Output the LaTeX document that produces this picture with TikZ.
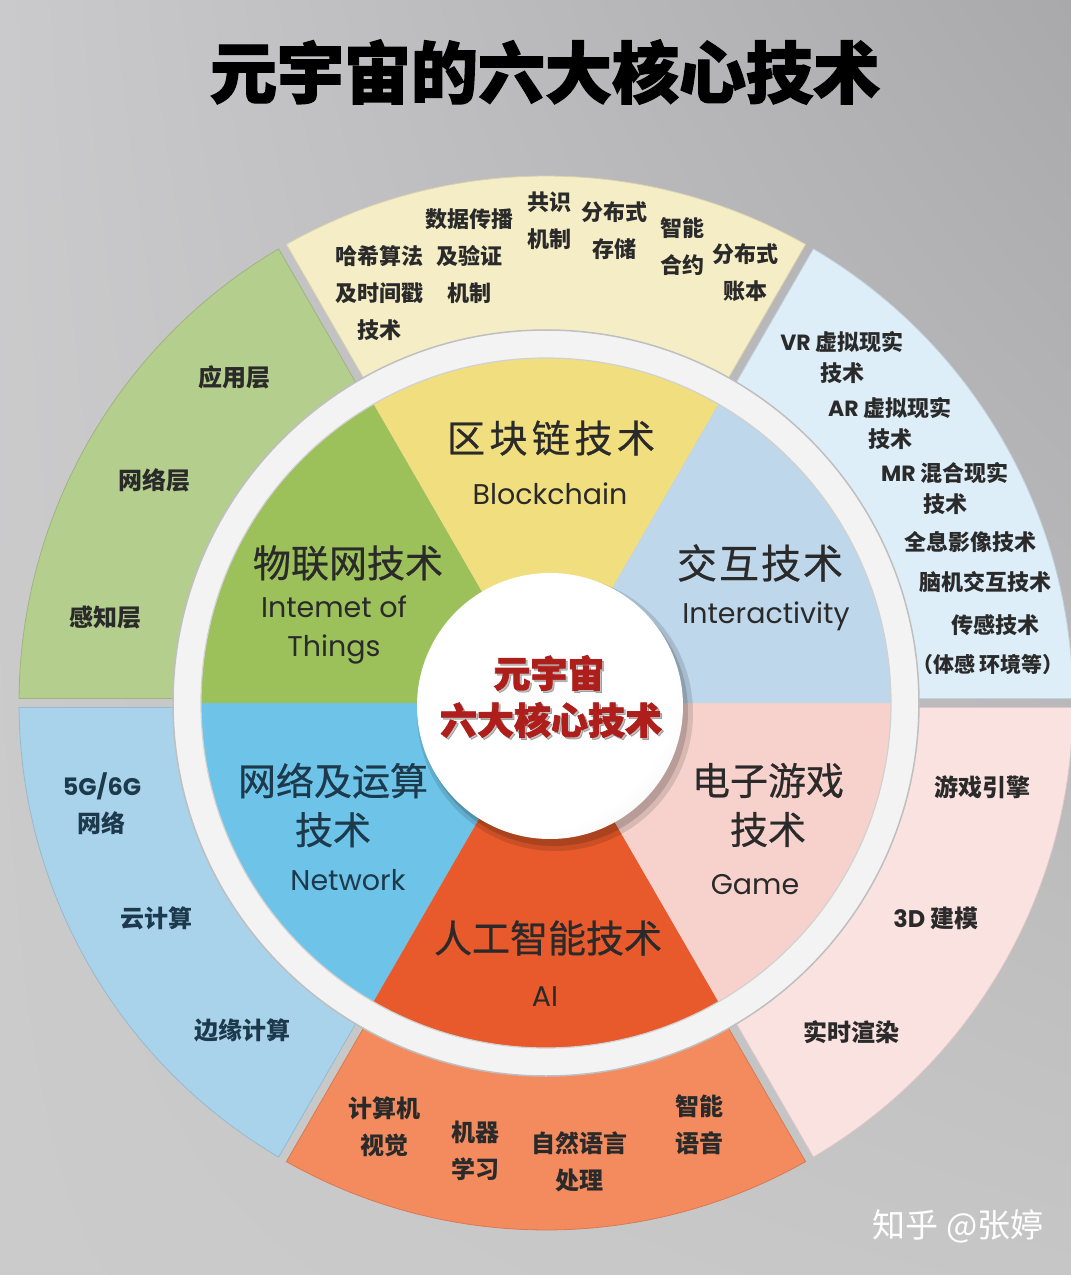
\documentclass[tikz,border=0pt]{standalone}
\usepackage{fontspec}
\usetikzlibrary{shadings}
\newfontfamily\cjk{Noto Sans CJK SC}
\newfontfamily\cjkmed{Noto Sans CJK SC}[FakeBold=0.6]
\newfontfamily\cjkheavy{Noto Sans CJK SC}[BoldFeatures={FakeBold=2}]
\newfontfamily\geo{Poppins}
\definecolor{bgUL}{HTML}{CACACC}
\definecolor{bgUR}{HTML}{A9A9AC}
\definecolor{bgLL}{HTML}{CBCBCB}
\definecolor{bgLR}{HTML}{C6C6C6}
\definecolor{iY}{HTML}{F1DE7E}
\definecolor{oY}{HTML}{F5EDC6}
\definecolor{iG}{HTML}{9CC05A}
\definecolor{oG}{HTML}{B4CE8E}
\definecolor{iB}{HTML}{6EC4E8}
\definecolor{oB}{HTML}{A9D3EB}
\definecolor{iO}{HTML}{E85A2B}
\definecolor{oO}{HTML}{F38B5E}
\definecolor{iP}{HTML}{F7D2CC}
\definecolor{oP}{HTML}{F9E2E0}
\definecolor{iL}{HTML}{BED7EA}
\definecolor{oL}{HTML}{DDEEF9}
\definecolor{ringc}{HTML}{F3F3F3}
\definecolor{txt}{HTML}{2A2A2A}
\definecolor{navy}{HTML}{1D3A4C}
\definecolor{redt}{HTML}{AE1F1B}
\pgfdeclareradialshading{ballshade}{\pgfpoint{-10bp}{10bp}}{color(0bp)=(white); color(28bp)=(white); color(40bp)=(black!10); color(47bp)=(black!30); color(50bp)=(black!50)}
\tikzset{
  outtxt/.style={font=\cjk\bfseries\fontsize{24}{37}\selectfont, text=txt, align=center, inner sep=0pt},
  outsm/.style={font=\cjk\bfseries\fontsize{22}{37}\selectfont, text=txt, align=center, inner sep=0pt},
  outrt/.style={font=\cjk\bfseries\fontsize{22}{31}\selectfont, text=txt, align=center, inner sep=0pt},
  intitle/.style={font=\cjkmed\fontsize{38}{49}\selectfont, text=txt, align=center, inner sep=0pt},
  inen/.style={font=\geo\fontsize{28.5}{39}\selectfont, text=txt, align=center, inner sep=0pt},
  redtxt/.style={font=\cjkheavy\bfseries\fontsize{37}{47}\selectfont, text=redt, inner sep=0pt},
}
\begin{document}
\begin{tikzpicture}[x=1pt,y=1pt]
\useasboundingbox (-546,-572) rectangle (525,703);
\shade[upper left=bgUL, upper right=bgUR, lower left=bgLL, lower right=bgLR] (-546,-572) rectangle (525,703);

% title
\node[font=\cjkheavy\bfseries\fontsize{67}{70}\selectfont, text=black, inner sep=0pt] (title) at (-1,631) {元宇宙的六大核心技术};

% outer sectors
\foreach \a/\b/\c in {60/120/oY, 120/180/oG, 180/240/oB, 240/300/oO, 300/360/oP, 0/60/oL}{
  \pgfmathsetmacro\da{4.5/527*57.2958}
  \pgfmathsetmacro\db{4.5/350*57.2958}
  \fill[\c, draw=\c!88!black, line width=0.8] ({\a+\db}:350) -- ({\a+\da}:527)
     arc[start angle={\a+\da}, end angle={\b-\da}, radius=527] -- ({\b-\db}:350) -- cycle;
}

% inner sectors
\foreach \a/\b/\c in {60/120/iY, 120/180/iG, 180/240/iB, 240/300/iO, 300/360/iP, 0/60/iL}{
  \fill[\c] (0,0) -- (\a:350) arc[start angle=\a, end angle=\b, radius=350] -- cycle;
}

% white ring
\draw[line width=28, ringc] (0,0) circle (359);
\draw[black!25, line width=1.5] (0,0) circle (373);
\draw[black!18, line width=1.2] (0,0) circle (345);

% center ball
\fill[black, opacity=0.12] (9,-10) circle (138);
\fill[black, opacity=0.15] (8,-9) circle (134);
\shade[shading=ballshade] (4,-3) circle (133);
\node (ballc) at (4,-3) {};

% center text
\node[redtxt, text=black, opacity=0.25] at (5,28) {元宇宙};
\node[redtxt, text=black, opacity=0.25] at (7,-19) {六大核心技术};
\node[redtxt] (cent1) at (3,30) {元宇宙};
\node[redtxt] (cent2) at (5,-17) {六大核心技术};

% inner labels
\node[intitle] (blkzh) at (5,265) {区\kern4.5pt 块\kern4.5pt 链\kern4.5pt 技\kern4.5pt 术};
\node[inen] (blken) at (4,209) {Blockchain};
\node[intitle] (iotzh) at (-198,140) {物联网技术};
\node[inen] (ioten) at (-212,73) {Intemet of\\Things};
\node[intitle, font=\cjkmed\fontsize{40}{49}\selectfont] (intzh) at (214,140) {交\kern2pt 互\kern2pt 技\kern2pt 术};
\node[inen] (inten) at (220,87) {Interactivity};
\node[intitle, text=navy] (netzh) at (-213,-102) {网络及运算\\技术};
\node[inen, text=navy] (neten) at (-198,-177) {Network};
\node[intitle] (gamezh) at (222,-102) {电子游戏\\技术};
\node[inen] (gameen) at (209,-182) {Game};
\node[intitle] (aizh) at (2,-235) {人工智能技术};
\node[inen] (aien) at (-1,-294) {AI};

% yellow outer
\node[outsm] (hash) at (-166,410) {哈希算法\\及时间戳\\技术};
\node[outsm] (data) at (-76,447) {数据传播\\及验证\\机制};
\node[outsm] (cons) at (4,482) {共识\\机制};
\node[outsm] (stor) at (69,472) {分布式\\存储};
\node[outsm] (contr) at (137,456) {智能\\合约};
\node[outsm] (ledg) at (199,430) {分布式\\账本};

% light blue outer
\node[outrt] (vr) at (296,346) {{\geo VR} 虚拟现实\\技术};
\node[outrt] (ar) at (344,280) {{\geo AR} 虚拟现实\\技术};
\node[outrt] (mr) at (399,215) {{\geo MR} 混合现实\\技术};
\node[outrt] (holo) at (424,161) {全息影像技术};
\node[outrt] (bci) at (439,121) {脑机交互技术};
\node[outrt] (sens) at (449,78) {传感技术};
\node[outrt, font=\cjk\bfseries\fontsize{21}{31}\selectfont] (paren) at (442,39) {（体感\kern4pt 环境等）};

% pink outer
\node[outtxt] (engine) at (436,-84) {游戏引擎};
\node[outtxt] (model) at (390,-215) {{\geo 3D} 建模};
\node[outtxt] (render) at (305,-329) {实时渲染};

% orange outer
\node[outtxt] (cv) at (-161,-424) {计算机\\视觉};
\node[outtxt] (ml) at (-70,-448) {机器\\学习};
\node[outtxt] (nlp) at (34,-459) {自然语言\\处理};
\node[outtxt] (voice) at (154,-422) {智能\\语音};

% blue outer
\node[outtxt, text=navy] (g5) at (-444,-101) {{\geo 5G/6G}\\网络};
\node[outtxt, text=navy] (cloud) at (-389,-215) {云计算};
\node[outtxt, text=navy] (edge) at (-303,-327) {边缘计算};

% green outer
\node[outtxt] (appl) at (-311,326) {应用层};
\node[outtxt] (netl) at (-391,223) {网络层};
\node[outtxt] (perc) at (-440,86) {感知层};

% watermark
\node[font=\cjk\fontsize{33}{36}\selectfont, text=white, inner sep=0pt] (wm) at (412,-523) {知乎 @张婷};
\end{tikzpicture}
\end{document}
